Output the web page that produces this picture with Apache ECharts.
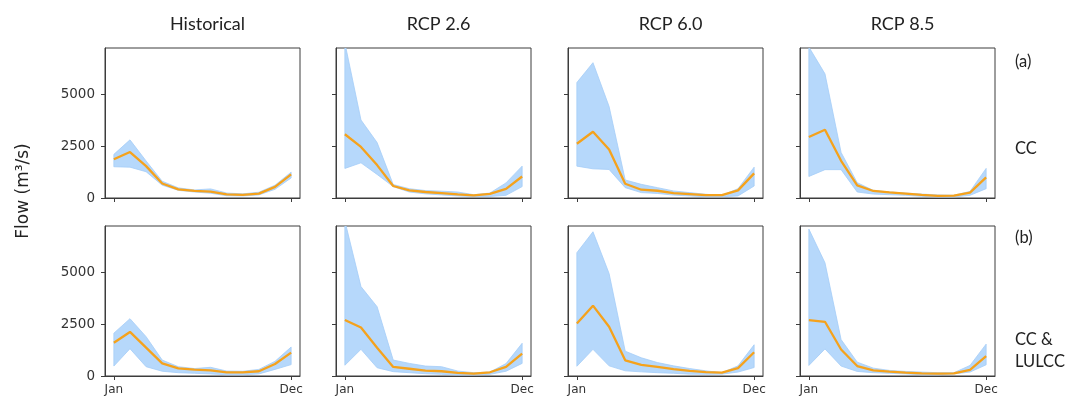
<!DOCTYPE html>
<html>
<head>
<meta charset="utf-8">
<script src="https://cdn.jsdelivr.net/npm/echarts@6/dist/echarts.min.js"></script>
<style>
  html, body { margin: 0; padding: 0; background: #fff; }
  #chart { width: 1075px; height: 399px; }
</style>
</head>
<body>
<div id="chart"></div>
<script>
const months = ['Jan', 'Feb', 'Mar', 'Apr', 'May', 'Jun', 'Jul', 'Aug', 'Sep', 'Oct', 'Nov', 'Dec']
const scenarios = ['Historical', 'RCP 2.6', 'RCP 6.0', 'RCP 8.5']
const yTicks = [0, 2500, 5000]
const yMax = 7250

// row (a) CC
const histCcMean = [1870, 2220, 1540, 700, 420, 340, 310, 180, 150, 210, 540, 1140]
const histCcLow = [1510, 1490, 1270, 620, 370, 290, 230, 110, 100, 150, 420, 970]
const histCcHigh = [2110, 2810, 1790, 810, 490, 390, 440, 240, 200, 280, 620, 1250]

const rcp26CcMean = [3080, 2470, 1590, 580, 370, 290, 240, 180, 130, 200, 440, 1040]
const rcp26CcLow = [1430, 1700, 1140, 550, 290, 200, 150, 100, 70, 70, 130, 550]
const rcp26CcHigh = [7500, 3770, 2680, 650, 450, 360, 330, 290, 160, 240, 730, 1540]

const rcp60CcMean = [2620, 3200, 2340, 690, 400, 350, 240, 190, 140, 140, 370, 1190]
const rcp60CcLow = [1540, 1410, 1380, 500, 260, 220, 140, 100, 60, 60, 100, 580]
const rcp60CcHigh = [5580, 6540, 4420, 870, 660, 500, 340, 260, 180, 130, 450, 1490]

const rcp85CcMean = [2950, 3300, 1800, 610, 340, 270, 210, 150, 100, 110, 260, 1000]
const rcp85CcLow = [1040, 1370, 1370, 290, 190, 160, 130, 80, 50, 50, 130, 450]
const rcp85CcHigh = [7300, 6000, 2200, 740, 370, 290, 240, 190, 150, 130, 320, 1430]

// row (b) CC & LULCC
const histLuMean = [1610, 2130, 1370, 610, 370, 310, 270, 180, 180, 230, 580, 1130]
const histLuLow = [480, 1320, 450, 230, 160, 130, 100, 60, 60, 100, 320, 550]
const histLuHigh = [2070, 2770, 1900, 770, 450, 360, 420, 240, 230, 320, 710, 1400]

const rcp26LuMean = [2710, 2340, 1370, 440, 350, 260, 230, 150, 110, 180, 440, 1080]
const rcp26LuLow = [520, 1290, 400, 210, 160, 110, 80, 50, 50, 80, 230, 610]
const rcp26LuHigh = [7500, 4320, 3350, 770, 610, 480, 450, 240, 160, 190, 600, 1580]

const rcp60LuMean = [2540, 3400, 2380, 760, 540, 440, 330, 250, 190, 160, 380, 1150]
const rcp60LuLow = [470, 1290, 490, 250, 200, 160, 130, 90, 80, 90, 190, 410]
const rcp60LuHigh = [5960, 6970, 4950, 1200, 880, 650, 490, 360, 250, 160, 490, 1510]

const rcp85LuMean = [2700, 2620, 1280, 480, 270, 210, 160, 130, 110, 130, 300, 960]
const rcp85LuLow = [510, 1310, 480, 220, 160, 130, 100, 60, 60, 100, 190, 540]
const rcp85LuHigh = [7100, 5470, 1760, 670, 380, 270, 220, 190, 160, 160, 510, 1540]

const panels = [
  { mean: histCcMean, low: histCcLow, high: histCcHigh },
  { mean: rcp26CcMean, low: rcp26CcLow, high: rcp26CcHigh },
  { mean: rcp60CcMean, low: rcp60CcLow, high: rcp60CcHigh },
  { mean: rcp85CcMean, low: rcp85CcLow, high: rcp85CcHigh },
  { mean: histLuMean, low: histLuLow, high: histLuHigh },
  { mean: rcp26LuMean, low: rcp26LuLow, high: rcp26LuHigh },
  { mean: rcp60LuMean, low: rcp60LuLow, high: rcp60LuHigh },
  { mean: rcp85LuMean, low: rcp85LuLow, high: rcp85LuHigh }
]

const lefts = [105, 336, 568, 800]
const tops = [48, 226]
const boxW = 195
const boxH = 150
const frameColor = '#3c3c3c'
const bandFill = '#b6d8fb'
const bandEdge = '#a4cdf7'
const meanColor = '#f5a21c'
const tickFont = 'DejaVu Sans'
const textFont = 'Lato'

const chart = echarts.init(document.getElementById('chart'), null, { renderer: 'canvas' })

const grids = []
const xAxes = []
const yAxes = []
const series = []

// min-max band drawn as one polygon through the axis scales
function bandRenderer(p) {
  return (params, api) => {
    if (params.dataIndex !== 0) return
    const upper = p.high.map((v, m) => api.coord([m, v]))
    const lower = p.low.map((v, m) => api.coord([m, v])).reverse()
    const cs = params.coordSys
    return {
      type: 'polygon',
      shape: { points: upper.concat(lower) },
      style: { fill: bandFill, stroke: bandEdge, lineWidth: 0.8 },
      clipPath: { type: 'rect', shape: { x: cs.x, y: cs.y, width: cs.width, height: cs.height } }
    }
  }
}

panels.forEach((p, i) => {
  const row = Math.floor(i / 4)
  const col = i % 4
  grids.push({
    left: lefts[col],
    top: tops[row],
    width: boxW,
    height: boxH,
    show: true,
    borderColor: frameColor,
    borderWidth: 1,
    backgroundColor: 'transparent'
  })
  xAxes.push({
    gridIndex: i,
    type: 'value',
    min: -0.55,
    max: 11.55,
    axisLine: { show: true, onZero: false, lineStyle: { color: frameColor, width: 1 } },
    axisTick: { show: true, length: 4, customValues: [0, 11], lineStyle: { color: frameColor } },
    axisLabel: {
      show: row === 1,
      customValues: [0, 11],
      formatter: (v) => months[Math.round(v)],
      margin: 8,
      color: '#333',
      fontSize: 12,
      fontFamily: tickFont
    },
    splitLine: { show: false }
  })
  yAxes.push({
    gridIndex: i,
    type: 'value',
    min: 0,
    max: yMax,
    axisLine: { show: true, onZero: false, lineStyle: { color: frameColor, width: 1 } },
    axisTick: { show: true, length: 4, customValues: yTicks, lineStyle: { color: frameColor } },
    axisLabel: {
      show: col === 0,
      customValues: yTicks,
      formatter: (v) => String(v),
      margin: 10,
      color: '#333',
      fontSize: 13.5,
      fontFamily: tickFont
    },
    splitLine: { show: false }
  })

  series.push({
    type: 'custom',
    xAxisIndex: i,
    yAxisIndex: i,
    silent: true,
    data: p.low.map((v, m) => [m, v, p.high[m]]),
    encode: { x: 0, y: [1, 2] },
    renderItem: bandRenderer(p)
  })
  series.push({
    type: 'line',
    xAxisIndex: i,
    yAxisIndex: i,
    symbol: 'none',
    silent: true,
    z: 5,
    lineStyle: { color: meanColor, width: 2.3 },
    data: p.mean.map((v, m) => [m, v])
  })
})

const titles = scenarios.map((s, c) => ({
  text: s,
  left: lefts[c] + boxW / 2,
  top: 10,
  textAlign: 'center',
  textStyle: { fontSize: 18, fontWeight: 'normal', color: '#222', fontFamily: textFont }
}))

const option = {
  animation: false,
  backgroundColor: '#fff',
  title: titles,
  grid: grids,
  xAxis: xAxes,
  yAxis: yAxes,
  series: series,
  graphic: [
    {
      type: 'text',
      x: 24,
      y: 191,
      rotation: Math.PI / 2,
      style: {
        text: 'Flow (m³/s)',
        fill: '#222',
        font: '17px "DejaVu Sans"',
        align: 'center',
        verticalAlign: 'middle'
      }
    },
    {
      type: 'text', left: 1015, top: 53,
      style: { text: '(a)', fill: '#222', font: '16.5px Lato' }
    },
    {
      type: 'text', left: 1015, top: 140,
      style: { text: 'CC', fill: '#222', font: '16.5px Lato' }
    },
    {
      type: 'text', left: 1015, top: 229,
      style: { text: '(b)', fill: '#222', font: '16.5px Lato' }
    },
    {
      type: 'text', left: 1015, top: 329,
      style: { text: 'CC &\nLULCC', fill: '#222', font: '16.5px Lato', lineHeight: 22 }
    }
  ]
}

chart.setOption(option)
</script>
</body>
</html>
